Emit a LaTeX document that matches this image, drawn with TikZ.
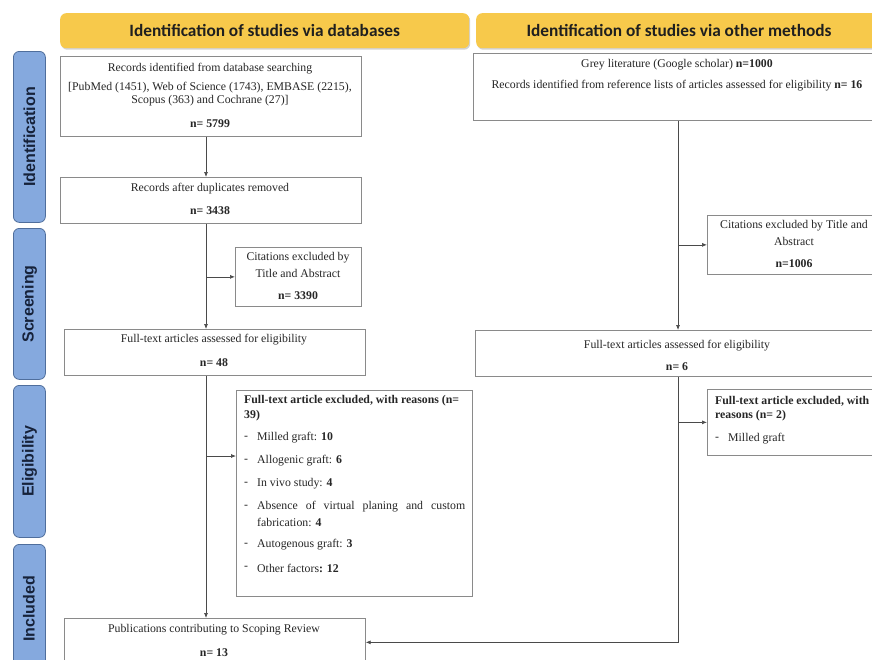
\documentclass[tikz,border=0pt]{standalone}
\usepackage{fontspec}
\setmainfont{Liberation Serif}
\newfontfamily\hdrfont{Carlito}
\newfontfamily\sidefont{Liberation Sans}
\usetikzlibrary{arrows.meta,shadows}
\definecolor{hdryellow}{HTML}{F7C94B}
\definecolor{sideblue}{HTML}{85A9DE}
\definecolor{sideborder}{HTML}{4F6E9C}
\definecolor{sidetext}{HTML}{16223A}
\definecolor{boxline}{HTML}{8A8A8A}
\definecolor{arrline}{HTML}{4A4A4A}
\tikzset{
  hdr/.style={fill=hdryellow, draw=none, rounded corners=6pt, anchor=north west,
    drop shadow={shadow xshift=1pt, shadow yshift=-1.5pt, opacity=0.35}},
  hdrlbl/.style={font=\hdrfont\bfseries\fontsize{17.3}{20}\selectfont, text=black!88},
  side/.style={fill=sideblue, draw=sideborder, line width=0.8pt, rounded corners=6pt,
    anchor=north west, minimum width=32pt},
  sidelbl/.style={rotate=90, font=\sidefont\bfseries\fontsize{16}{18}\selectfont, text=sidetext},
  box/.style={draw=boxline, line width=0.7pt, fill=white, anchor=north west, inner sep=0pt},
  txt/.style={font=\fontsize{11.8}{13}\selectfont, inner sep=0pt, text=black!85},
  arr/.style={draw=arrline, line width=0.7pt, -{Latex[length=5pt,width=4pt]}},
}
\begin{document}
\begin{tikzpicture}[x=1pt,y=-1pt]
\useasboundingbox (0,0) rectangle (872,659);
\clip (0,0) rectangle (872,659);
\fill[white] (0,0) rectangle (872,659);

% headers
\node[hdr, minimum width=409pt, minimum height=35pt] (h1) at (60,13) {};
\node[hdrlbl] at (h1.center) {Identification of studies via databases};
\node[hdr, minimum width=410pt, minimum height=35pt] (h2) at (476,13) {};
\node[hdrlbl] at (679,30.5) {Identification of studies via other methods};

% side bars
\node[side, minimum height=171pt] (s1) at (13,51) {};
\node[sidelbl] at (s1.center) {Identification};
\node[side, minimum height=151pt] (s2) at (13,228) {};
\node[sidelbl] at (s2.center) {Screening};
\node[side, minimum height=152pt] (s3) at (13,385) {};
\node[sidelbl] at (s3.center) {Eligibility};
\node[side, minimum height=140pt] (s4) at (13,544) {};
\node[sidelbl] at (29,609) {Included};

% left column boxes
\node[box, minimum width=301pt, minimum height=80pt] (b1) at (60,56) {};
\node[txt] at (210,69) {Records identified from database searching};
\node[txt] at (210,88) {[PubMed (1451), Web of Science (1743), EMBASE (2215),};
\node[txt] at (210,101) {Scopus (363) and Cochrane (27)]};
\node[txt] at (210,124) {\textbf{n= 5799}};

\node[box, minimum width=301pt, minimum height=46pt] (b2) at (60,177) {};
\node[txt] at (210,189) {Records after duplicates removed};
\node[txt] at (210,211) {\textbf{n= 3438}};

\node[box, minimum width=126pt, minimum height=59pt] (c1) at (235,247) {};
\node[txt] at (298,258) {Citations excluded by};
\node[txt] at (298,273) {Title and Abstract};
\node[txt] at (298,296) {\textbf{n= 3390}};

\node[box, minimum width=301pt, minimum height=46pt] (b3) at (64,329) {};
\node[txt] at (214,340) {Full-text articles assessed for eligibility};
\node[txt] at (214,363) {\textbf{n= 48}};

\node[box, minimum width=236pt, minimum height=206pt] (e1) at (236,390) {};
\node[txt, anchor=west] at (244,401) {\textbf{Full-text article excluded, with reasons (n=}};
\node[txt, anchor=west] at (244,416) {\textbf{39)}};
\node[txt, anchor=west] at (244,438) {-};
\node[txt, anchor=west] at (257,438) {Milled graft: \textbf{10}};
\node[txt, anchor=west] at (244,461) {-};
\node[txt, anchor=west] at (257,461) {Allogenic graft: \textbf{6}};
\node[txt, anchor=west] at (244,484) {-};
\node[txt, anchor=west] at (257,484) {In vivo study: \textbf{4}};
\node[txt, anchor=west] at (244,507) {-};
\node[txt, anchor=west] at (257,507) {\hbox to 208pt{Absence\hfill of\hfill virtual\hfill planing\hfill and\hfill custom}};
\node[txt, anchor=west] at (257,522) {fabrication: \textbf{4}};
\node[txt, anchor=west] at (244,545) {-};
\node[txt, anchor=west] at (257,545) {Autogenous graft: \textbf{3}};
\node[txt, anchor=west] at (244,568) {-};
\node[txt, anchor=west] at (257,568) {Other factors\textbf{: 12}};

\node[box, minimum width=301pt, minimum height=48pt] (pub) at (64,618) {};
\node[txt] at (214,630) {Publications contributing to Scoping Review};
\node[txt] at (214,653) {\textbf{n= 13}};

% right column boxes
\node[box, minimum width=410pt, minimum height=67pt] (r1) at (473,53) {};
\node[txt] at (677,65) {Grey literature (Google scholar) \textbf{n=1000}};
\node[txt] at (677,86) {Records identified from reference lists of articles assessed for eligibility \textbf{n= 16}};

\node[box, minimum width=176pt, minimum height=59pt] (c2) at (707,215) {};
\node[txt] at (794,226) {Citations excluded by Title and};
\node[txt] at (794,241) {Abstract};
\node[txt] at (794,264) {\textbf{n=1006}};

\node[box, minimum width=410pt, minimum height=46pt] (f2) at (475,330) {};
\node[txt] at (677,346) {Full-text articles assessed for eligibility};
\node[txt] at (677,367) {\textbf{n= 6}};

\node[box, minimum width=176pt, minimum height=66pt] (e2) at (707,389) {};
\node[txt, anchor=west] at (715,401) {\textbf{Full-text article excluded, with}};
\node[txt, anchor=west] at (715,416) {\textbf{reasons (n= 2)}};
\node[txt, anchor=west] at (715,439) {-};
\node[txt, anchor=west] at (728,439) {Milled graft};

% connectors
\coordinate (spL) at (206,0);
\coordinate (spR) at (678,0);
\coordinate (yE1) at (0,456);

\draw[arr] (b1.south -| spL) -- (b2.north -| spL);
\draw[arr] (b2.south -| spL) -- (b3.north -| spL);
\draw[arr] (c1.west -| spL) -- (c1.west);
\draw[arr] (b3.south -| spL) -- (pub.north -| spL);
\draw[arr] (spL |- yE1) -- (e1.west |- yE1);

\draw[arr] (r1.south -| spR) -- (f2.north -| spR);
\draw[arr] (c2.west -| spR) -- (c2.west);
\draw[arr] (f2.south -| spR) |- (pub.east);
\draw[arr] (e2.west -| spR) -- (e2.west);
\end{tikzpicture}
\end{document}
